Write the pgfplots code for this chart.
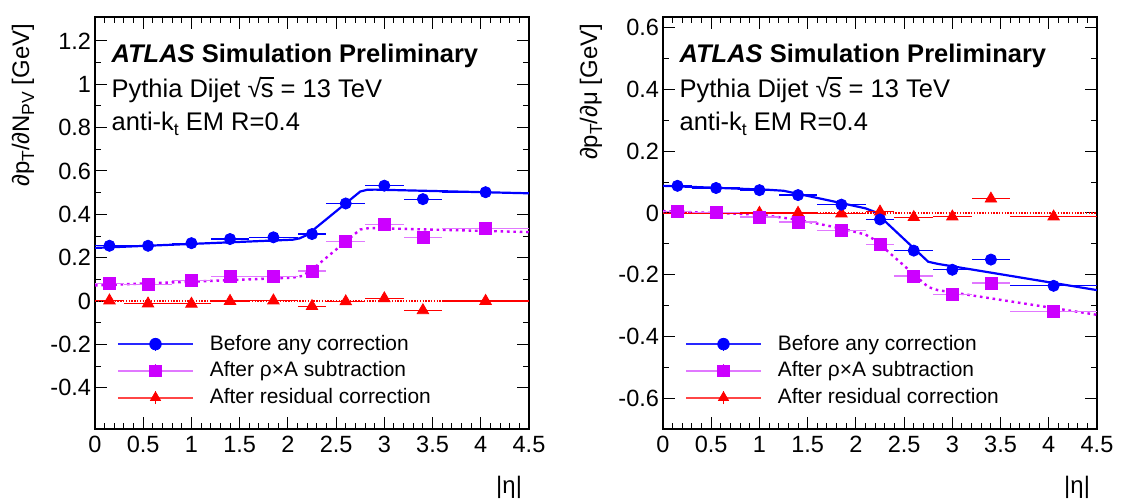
\documentclass[border=0pt]{standalone}
\usepackage{fontspec}
\setmainfont{Liberation Sans}
\usepackage{pgfplots}
\pgfplotsset{compat=1.18}
\usepackage{pgfplotstable}
\definecolor{rblue}{RGB}{0,0,255}
\definecolor{rblul}{RGB}{40,40,255}
\definecolor{rmag}{RGB}{204,0,255}
\definecolor{rmagl}{RGB}{225,120,255}
\definecolor{rred}{RGB}{255,0,0}
\definecolor{rredl}{RGB}{255,70,70}
\newcommand\sub[1]{\raisebox{-0.4ex}{\fontsize{8.8}{9}\selectfont #1}}
\newcommand\sqs{√\kern-0.03em\rlap{\rule[0.74em]{0.5em}{0.06em}}s}

% left panel data: x, y, x error
\pgfplotstableread{
x y ex
0.15 0.255 0.15
0.55 0.255 0.25
1.0 0.267 0.2
1.4 0.286 0.2
1.85 0.294 0.25
2.25 0.309 0.15
2.6 0.450 0.2
3.0 0.532 0.2
3.4 0.470 0.2
4.05 0.502 0.45
}\LBlue
\pgfplotstableread{
x y ex
0.15 0.082 0.15
0.55 0.077 0.25
1.0 0.093 0.2
1.4 0.112 0.2
1.85 0.115 0.25
2.25 0.139 0.15
2.6 0.276 0.2
3.0 0.352 0.2
3.4 0.292 0.2
4.05 0.333 0.45
}\LMag
\pgfplotstableread{
x y ex
0.15 0.002 0.15
0.55 -0.012 0.25
1.0 -0.013 0.2
1.4 0.000 0.2
1.85 0.002 0.25
2.25 -0.024 0.15
2.6 -0.002 0.2
3.0 0.012 0.2
3.4 -0.043 0.2
4.05 0.000 0.45
}\LRed
% right panel data
\pgfplotstableread{
x y ex
0.15 0.088 0.15
0.55 0.081 0.25
1.0 0.074 0.2
1.4 0.058 0.2
1.85 0.027 0.25
2.25 -0.021 0.15
2.6 -0.122 0.2
3.0 -0.184 0.2
3.4 -0.151 0.2
4.05 -0.236 0.45
}\RBlue
\pgfplotstableread{
x y ex
0.15 0.005 0.15
0.55 0.001 0.25
1.0 -0.013 0.2
1.4 -0.029 0.2
1.85 -0.057 0.25
2.25 -0.102 0.15
2.6 -0.204 0.2
3.0 -0.265 0.2
3.4 -0.227 0.2
4.05 -0.318 0.45
}\RMag
\pgfplotstableread{
x y ex
0.15 -0.002 0.15
0.55 -0.002 0.25
1.0 0.000 0.2
1.4 0.000 0.2
1.85 -0.002 0.25
2.25 0.004 0.15
2.6 -0.014 0.2
3.0 -0.012 0.2
3.4 0.046 0.2
4.05 -0.012 0.45
}\RRed

\pgfplotsset{
  atlas/.style={
    scale only axis, anchor=south west,
    width=217bp, height=206bp,
    xmin=0, xmax=4.5,
    xtick={0,0.5,1,1.5,2,2.5,3,3.5,4,4.5},
    minor x tick num=4, minor y tick num=1,
    tick align=inside, xtick pos=both, ytick pos=both,
    major tick length=6bp, minor tick length=3bp,
    every tick/.style={black, line width=0.5bp},
    axis line style={black, line width=0.6bp},
    ticklabel style={font=\fontsize{11.8}{13}\selectfont},
    yticklabel style={xshift=1.5bp},
    /pgf/number format/assume math mode=true,
    clip mode=individual,
    legend style={draw=none, fill=none, anchor=north west,
      font=\fontsize{10.5}{12}\selectfont, row sep=4.3bp, inner sep=0pt,
      nodes={inner sep=0pt},
      /tikz/every odd column/.append style={column sep=8bp}},
    legend cell align=left,
  },
  dat/.style 2 args={only marks, mark size=#1, forget plot,
    error bars/.cd, x dir=both, x explicit, error mark=none,
    error bar style={#2, line width=0.6bp}, /pgfplots/.cd},
}

\newcommand\legimg[3]{% line colour, mark colour, mark
  \addlegendimage{legend image code/.code={
    \draw[#1, line width=0.9bp] (0bp,0bp) -- (37.5bp,0bp);
    \draw[#2, line width=0.6bp] (18.75bp,-3.3bp) -- (18.75bp,3.3bp);
    \draw[#2] plot[mark=#3, mark size=2.9bp, mark options={fill=#2,draw=#2}] coordinates {(18.75bp,0bp)};
  }}}

\newcommand\atlastext{%
\node[anchor=west, font=\fontsize{12.8}{14}\selectfont] at (rel axis cs:0.022,0.906) {\textbf{\textit{ATLAS}} \textbf{Simulation Preliminary}};
\node[anchor=west, font=\fontsize{12.8}{14}\selectfont] at (rel axis cs:0.022,0.823) {Pythia Dijet \sqs\ = 13 TeV};
\node[anchor=west, font=\fontsize{12.8}{14}\selectfont] at (rel axis cs:0.022,0.741) {anti-k\sub{t} EM R=0.4};
\node[anchor=east, font=\fontsize{12}{14}\selectfont] at ([yshift=-29bp]rel axis cs:1,0) {|η|};
}

\begin{document}
\begin{tikzpicture}
\useasboundingbox (0,0) rectangle (562bp,250.5bp);

% ================= LEFT =================
\begin{axis}[atlas, at={(47.5bp,36bp)},
  ymin=-0.59, ymax=1.31,
  ytick={-0.4,-0.2,0,0.2,0.4,0.6,0.8,1,1.2},
  legend style={at={(rel axis cs:0.05,0.229)}}]
\legimg{rblul}{rblue}{*}
\addlegendentry{Before any correction}
\legimg{rmagl}{rmag}{square*}
\addlegendentry{After ρ×A subtraction}
\legimg{rredl}{rred}{triangle*}
\addlegendentry{After residual correction}

\addplot[rred, line width=1.1bp, dash pattern=on 0.7bp off 0.7bp, forget plot] coordinates {(0,0) (4.5,0)};
\addplot[rblue, line width=1.1bp, forget plot] coordinates {(0,0.245) (2.05,0.283) (2.12,0.289) (2.2,0.305) (2.75,0.505) (2.82,0.513) (2.9,0.514) (4.5,0.497)};
\addplot[rmag, line width=1.2bp, dash pattern=on 1.3bp off 1.9bp, forget plot] coordinates {(0,0.072) (2.05,0.108) (2.15,0.116) (2.25,0.145) (2.75,0.33) (2.85,0.337) (4.5,0.318)};

\addplot[rred, mark=triangle*, dat={3.3bp}{rred}] table[x=x, y=y, x error=ex] {\LRed};
\addplot[rmag, mark=square*, dat={3bp}{rmagl}] table[x=x, y=y, x error=ex] {\LMag};
\addplot[rblue, mark=*, dat={2.8bp}{rblue}] table[x=x, y=y, x error=ex] {\LBlue};

\atlastext
\node[rotate=90, anchor=east, font=\fontsize{12}{14}\selectfont] at ([xshift=-36bp]rel axis cs:0,1) {∂p\sub{T}/∂N\sub{PV} [GeV]};
\end{axis}

% ================= RIGHT =================
\begin{axis}[atlas, at={(331.5bp,36bp)},
  ymin=-0.7, ymax=0.635,
  ytick={-0.6,-0.4,-0.2,0,0.2,0.4,0.6},
  legend style={at={(rel axis cs:0.05,0.229)}}]
\legimg{rblul}{rblue}{*}
\addlegendentry{Before any correction}
\legimg{rmagl}{rmag}{square*}
\addlegendentry{After ρ×A subtraction}
\legimg{rredl}{rred}{triangle*}
\addlegendentry{After residual correction}

\addplot[rred, line width=1.1bp, dash pattern=on 0.7bp off 0.7bp, forget plot] coordinates {(0,0) (4.5,0)};
\addplot[rblue, line width=1.1bp, forget plot] coordinates {(0,0.088) (1.1,0.075) (1.25,0.072) (1.4,0.062) (1.85,0.032) (2.1,0.015) (2.2,0.003) (2.75,-0.158) (2.85,-0.165) (4.5,-0.25)};
\addplot[rmag, line width=1.2bp, dash pattern=on 1.3bp off 1.9bp, forget plot] coordinates {(0,0.006) (1.0,-0.005) (1.4,-0.022) (1.85,-0.05) (2.1,-0.07) (2.2,-0.088) (2.75,-0.24) (2.85,-0.25) (4.5,-0.33)};

\addplot[rred, mark=triangle*, dat={3.3bp}{rred}] table[x=x, y=y, x error=ex] {\RRed};
\addplot[rmag, mark=square*, dat={3bp}{rmagl}] table[x=x, y=y, x error=ex] {\RMag};
\addplot[rblue, mark=*, dat={2.8bp}{rblue}] table[x=x, y=y, x error=ex] {\RBlue};

\atlastext
\node[rotate=90, anchor=east, font=\fontsize{12}{14}\selectfont] at ([xshift=-36bp]rel axis cs:0,1) {∂p\sub{T}/∂μ [GeV]};
\end{axis}
\end{tikzpicture}
\end{document}
